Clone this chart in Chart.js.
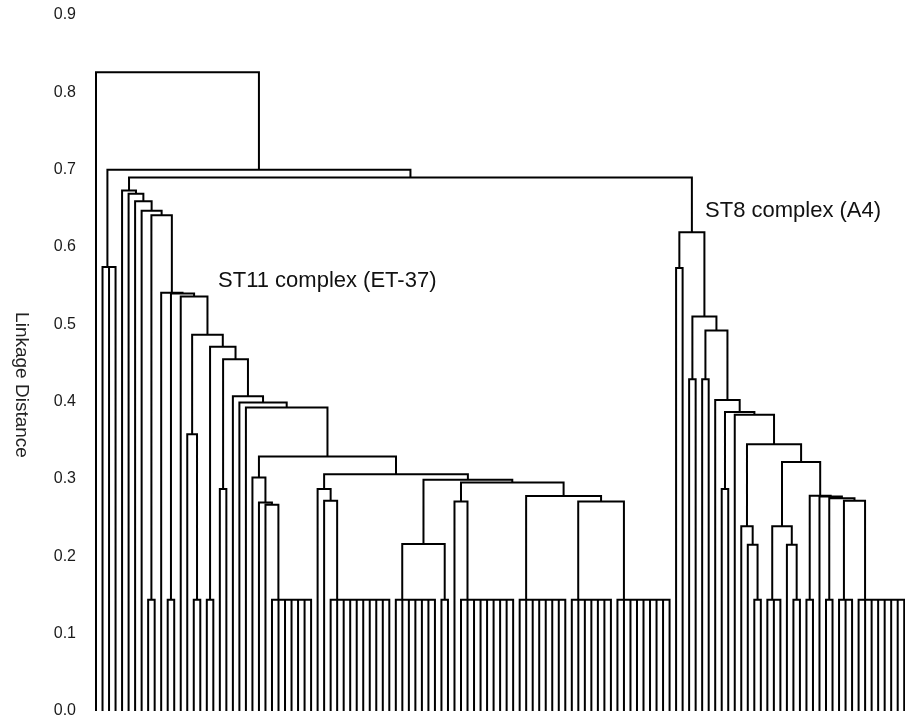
<!DOCTYPE html>
<html>
<head>
<meta charset="utf-8">
<script src="https://cdn.jsdelivr.net/npm/chart.js@4.4.1/dist/chart.umd.min.js"></script>
<style>
  html, body { margin: 0; padding: 0; background: #fff; }
  #wrap { width: 905px; height: 719px; position: relative; }
</style>
</head>
<body>
<div id="wrap"><canvas id="tree"></canvas></div>
<script>
// Linkage distance axis
const tickValues = [0.0, 0.1, 0.2, 0.3, 0.4, 0.5, 0.6, 0.7, 0.8, 0.9];
const tickLabels = ['0.0', '0.1', '0.2', '0.3', '0.4', '0.5', '0.6', '0.7', '0.8', '0.9'];

// Clusters are written as [linkage distance, child, child, ...].
// A child of 0 is a single isolate; isolates are laid out left to right.
// Clusters with more than two children join right-nested at one distance.

// small outlying cluster next to the first isolate
const outlierCluster = [0.574, 0, 0, 0];

// ST11 complex (ET-37), lower sub-clusters
const st11P = [0.302, 0, [0.2695, 0, [0.2666, 0, [0.144, 0, 0, 0, 0, 0, 0, 0]]]];
const st11R = [0.287, 0, [0.272, 0, [0.144, 0, 0, 0, 0, 0, 0, 0, 0, 0, 0]]];
const st11U = [0.216, [0.144, 0, 0, 0, 0, 0, 0, 0], [0.144, 0, 0]];
const st11T = [0.271, 0, [0.144, 0, 0, 0, 0, 0, 0, 0, 0, 0]];
const st11X = [0.278, [0.144, 0, 0, 0, 0, 0, 0, 0, 0],
  [0.271, [0.144, 0, 0, 0, 0, 0, 0, 0], [0.144, 0, 0, 0, 0, 0, 0, 0, 0, 0]]];
const st11Tail = [0.329, st11P, [0.306, st11R, [0.299, st11U, [0.2954, st11T, st11X]]]];

// ST11 complex (ET-37), middle ladder
const st11Mid = [0.4865, [0.358, 0, [0.144, 0, 0]],
  [0.471, [0.144, 0, 0],
    [0.455, [0.287, 0, 0],
      [0.407, 0, [0.399, 0, [0.3925, 0, st11Tail]]]]]];

// ST11 complex (ET-37), outer ladder
const st11Cluster = [0.673, 0, [0.669, 0, [0.659, 0, [0.647, 0,
  [0.641, [0.144, 0, 0],
    [0.541, 0, [0.540, [0.144, 0, 0], [0.536, 0, st11Mid]]]]]]]];

// ST8 complex (A4), lower sub-clusters
const st8Low = [0.239, 0, [0.215, 0, [0.144, 0, 0]]];
const st8E = [0.239, [0.144, 0, 0, 0], [0.215, 0, [0.144, 0, 0]]];
const st8F = [0.2785, [0.144, 0, 0],
  [0.2775, 0,
    [0.275, [0.144, 0, 0],
      [0.272, [0.144, 0, 0, 0], [0.144, 0, 0, 0, 0, 0, 0, 0, 0]]]]];
const st8Tail = [0.345, st8Low, [0.322, st8E, st8F]];

// ST8 complex (A4)
const st8Cluster = [0.619, [0.573, 0, 0],
  [0.510, [0.429, 0, 0],
    [0.492, [0.429, 0, 0],
      [0.402, 0,
        [0.3865, [0.287, 0, 0],
          [0.383, 0, st8Tail]]]]]];

// full tree
const rootCluster = [0.826, 0, [0.700, outlierCluster, [0.690, st11Cluster, st8Cluster]]];

// cluster labels, anchored in axis units (isolate position, linkage distance)
const clusterNotes = ['ST11 complex (ET-37)', 'ST8 complex (A4)'];
const noteAnchorX = [18.72, 93.44];
const noteAnchorY = [0.5487, 0.6392];

// ---- walk the tree into line paths ----
let nextLeaf = 0;
const paths = [];
function gap(x) { paths.push({ x: x, y: null }); }
function place(node) {
  if (!Array.isArray(node)) {
    return { x: nextLeaf++, h: 0 };
  }
  const h = node[0];
  const kids = node.slice(1).map(place);
  // stem of a right-nested join: midpoint of left child and the rest
  let stem = kids[kids.length - 1].x;
  for (let k = kids.length - 2; k >= 0; k--) stem = (kids[k].x + stem) / 2;
  const a = kids[0], b = kids[kids.length - 1];
  paths.push({ x: a.x, y: a.h }, { x: a.x, y: h }, { x: b.x, y: h }, { x: b.x, y: b.h });
  gap(b.x);
  for (let k = 1; k < kids.length - 1; k++) {
    paths.push({ x: kids[k].x, y: kids[k].h }, { x: kids[k].x, y: h });
    gap(kids[k].x);
  }
  return { x: stem, h: h };
}
place(rootCluster);
const leafCount = nextLeaf;

const FONT = '"Liberation Sans", Arial, Helvetica, sans-serif';

const decorations = {
  id: 'decorations',
  afterDraw(chart) {
    const ctx = chart.ctx;
    const xs = chart.scales.x, ys = chart.scales.y;
    ctx.save();
    ctx.fillStyle = '#111';
    ctx.font = '22px ' + FONT;
    ctx.textAlign = 'left';
    ctx.textBaseline = 'alphabetic';
    clusterNotes.forEach((t, i) => {
      ctx.fillText(t, xs.getPixelForValue(noteAnchorX[i]), ys.getPixelForValue(noteAnchorY[i]));
    });
    // axis title, reading downward
    ctx.font = '19px ' + FONT;
    ctx.fillStyle = '#222';
    ctx.translate(21, 385);
    ctx.rotate(Math.PI / 2);
    ctx.textAlign = 'center';
    ctx.textBaseline = 'middle';
    ctx.fillText('Linkage Distance', 0, 0);
    ctx.restore();
  }
};

new Chart(document.getElementById('tree'), {
  type: 'scatter',
  data: {
    datasets: [{
      data: paths,
      showLine: true,
      spanGaps: false,
      borderColor: '#000',
      borderWidth: 2,
      borderJoinStyle: 'miter',
      borderCapStyle: 'butt',
      pointRadius: 0,
      pointHoverRadius: 0,
      tension: 0
    }]
  },
  options: {
    responsive: true,
    maintainAspectRatio: false,
    animation: false,
    layout: { padding: { top: 15, bottom: 8, left: 0, right: 0 } },
    plugins: { legend: { display: false }, tooltip: { enabled: false } },
    scales: {
      x: {
        type: 'linear',
        display: false,
        min: -0.307,
        max: leafCount - 1 + 0.12
      },
      y: {
        type: 'linear',
        min: 0,
        max: 0.9,
        afterFit(scale) {
          scale.width = 94;
          scale.paddingTop = 0;
          scale.paddingBottom = 0;
        },
        afterBuildTicks(scale) { scale.ticks = tickValues.map(v => ({ value: v })); },
        grid: { display: false, drawTicks: false },
        border: { display: false },
        ticks: {
          padding: 18,
          color: '#1a1a1a',
          font: { family: FONT, size: 16 },
          callback: (v) => {
            const i = tickValues.findIndex(t => Math.abs(t - v) < 1e-9);
            return i >= 0 ? tickLabels[i] : '';
          }
        }
      }
    }
  },
  plugins: [decorations]
});
</script>
</body>
</html>
